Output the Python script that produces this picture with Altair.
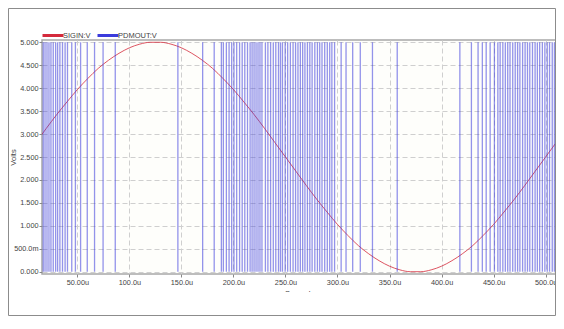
import altair as alt
import pandas as pd

# --- data -------------------------------------------------------------------
sig_t = [10, 20, 30, 40, 50, 60, 70, 80, 90, 100, 110, 120, 130, 140, 150, 160,
         170, 180, 190, 200, 210, 220, 230, 240, 250, 260, 270, 280, 290, 300,
         310, 320, 330, 340, 350, 360, 370, 380, 390, 400, 410, 420, 430, 440,
         450, 460, 470, 480, 490, 500, 510]
sig_v = [2.81, 3.12, 3.42, 3.70, 3.97, 4.21, 4.43, 4.61, 4.76, 4.88, 4.96, 5.00,
         5.00, 4.96, 4.88, 4.76, 4.61, 4.43, 4.21, 3.97, 3.70, 3.42, 3.12, 2.81,
         2.50, 2.19, 1.88, 1.58, 1.30, 1.03, 0.79, 0.57, 0.39, 0.24, 0.12, 0.04,
         0.00, 0.00, 0.04, 0.12, 0.24, 0.39, 0.57, 0.79, 1.03, 1.30, 1.58, 1.88,
         2.19, 2.50, 2.81]

pulse_t = [17.2, 18.9, 20.8, 22.7, 24.6, 26.8, 29.1, 31.0, 33.2, 35.7, 38.2, 40.5,
           44.6, 48.1, 53.1, 59.5, 66.5, 74.7, 86.4,
           146.6, 170.4, 181.5, 188.4, 190.3, 193.2, 195.8, 198.3, 200.5, 203.1,
           205.9, 208.4, 210.9, 213.5, 216.0, 217.9, 219.8, 221.7, 223.6, 225.5,
           227.4, 230.7, 233.1, 235.7, 238.3, 240.7, 243.3, 245.2, 247.1, 249.7,
           252.1, 254.7, 257.3, 259.7, 262.0, 264.3, 266.5, 268.7, 271.1, 273.4,
           275.6, 278.2, 280.7, 282.9, 285.1, 287.7, 290.2, 292.5, 294.6, 297.2,
           303.5, 308.2, 314.6, 321.9, 333.6, 357.4,
           417.6, 428.7, 435.1, 439.2, 442.9, 446.7, 450.8, 454.1, 456.3, 458.9,
           461.3, 463.6, 465.8, 468.4, 470.8, 473.1, 475.3, 477.9, 480.3, 482.6,
           484.8, 487.4, 489.9, 492.1, 494.3, 496.9, 499.3, 501.6, 503.8, 506.4,
           508.5]

x_ticks = [50, 100, 150, 200, 250, 300, 350, 400, 450, 500]
y_ticks = [0, 0.5, 1.0, 1.5, 2.0, 2.5, 3.0, 3.5, 4.0, 4.5, 5.0]
series_names = ["SIGIN:V", "PDMOUT:V"]
series_colors = ["#d42a3c", "#3b3bdc"]

sig = pd.DataFrame({"t": sig_t, "v": sig_v, "series": series_names[0]})
pdm = pd.DataFrame({"t": pulse_t, "v": 0.0, "hi": 5.0, "series": series_names[1]})

W, H = 514, 234
FONT = "Liberation Sans"

xs = alt.Scale(domain=[16, 510], nice=False, zero=False)
ys = alt.Scale(domain=[-0.05, 5.05], nice=False, zero=False)

x_axis = alt.Axis(
    values=x_ticks, title="Seconds", grid=True, gridDash=[5, 3], gridColor="#cfcfcf",
    domain=False, tickSize=3, tickColor="#888888", labelFontSize=7.3,
    labelColor="#444444", labelFont=FONT, labelPadding=1,
    labelExpr="datum.value < 100 ? format(datum.value, '.2f') + 'u' : format(datum.value, '.1f') + 'u'",
    titleFont=FONT, titleFontSize=7.5, titleFontWeight="normal", titleColor="#444444",
    titleX=W / 2, titleY=21, titleBaseline="alphabetic", titleAlign="center")
y_axis = alt.Axis(
    values=y_ticks, title="Volts", grid=True, gridDash=[5, 3], gridColor="#cfcfcf",
    domain=False, tickSize=3, tickColor="#888888", labelFontSize=7.3,
    labelColor="#444444", labelFont=FONT, labelPadding=1,
    labelExpr="datum.value == 0.5 ? '500.0m' : format(datum.value, '.3f')",
    titleFont=FONT, titleFontSize=7.5, titleFontWeight="normal", titleColor="#444444",
    titleX=-28.5, titleY=H / 2, titleAngle=270, titleBaseline="middle", titleAlign="center")

color = alt.Color(
    "series:N",
    scale=alt.Scale(domain=series_names, range=series_colors),
    legend=alt.Legend(
        title=None, orient="none", legendX=-1, legendY=-16.5, direction="horizontal",
        symbolType="stroke", symbolSize=441, symbolStrokeWidth=3, symbolOpacity=1,
        labelFontSize=7.5, labelFont=FONT, labelColor="#444444",
        labelOffset={"expr": "-2"}, columnPadding=0, padding=0))

sine = alt.Chart(sig).mark_line(strokeWidth=1, opacity=0.8, clip=True,
                                interpolate="monotone").encode(
    x=alt.X("t:Q", scale=xs, axis=x_axis),
    y=alt.Y("v:Q", scale=ys, axis=y_axis),
    color=color,
)

pulses = alt.Chart(pdm).mark_rule(strokeWidth=1.3, opacity=0.55, clip=True).encode(
    x=alt.X("t:Q", scale=xs, axis=x_axis),
    y=alt.Y("v:Q", scale=ys, axis=y_axis),
    y2="hi:Q",
    color=color,
)

deco = pd.DataFrame({"a": [0]})
cover = alt.Chart(deco).mark_rect(fill="white").encode(
    x=alt.value(-40), x2=alt.value(W + 5), y=alt.value(H + 18), y2=alt.value(H + 41))
frame = alt.Chart(deco).mark_rect(filled=False, stroke="#8c8c8c", strokeWidth=1).encode(
    x=alt.value(-33.5), x2=alt.value(W - 0.5), y=alt.value(-31.5), y2=alt.value(H + 41.5))

chart = alt.layer(sine, pulses, cover, frame).properties(
    width=W, height=H,
    autosize=alt.AutoSizeParams(type="none"),
    padding={"left": 34, "top": 32, "right": 0, "bottom": 42},
    background="white",
).configure_view(
    stroke="#a8a8a8", strokeWidth=1.5, fill="#fefefb"
)

chart.save("out.html", embed_options={"renderer": "svg", "actions": False})
